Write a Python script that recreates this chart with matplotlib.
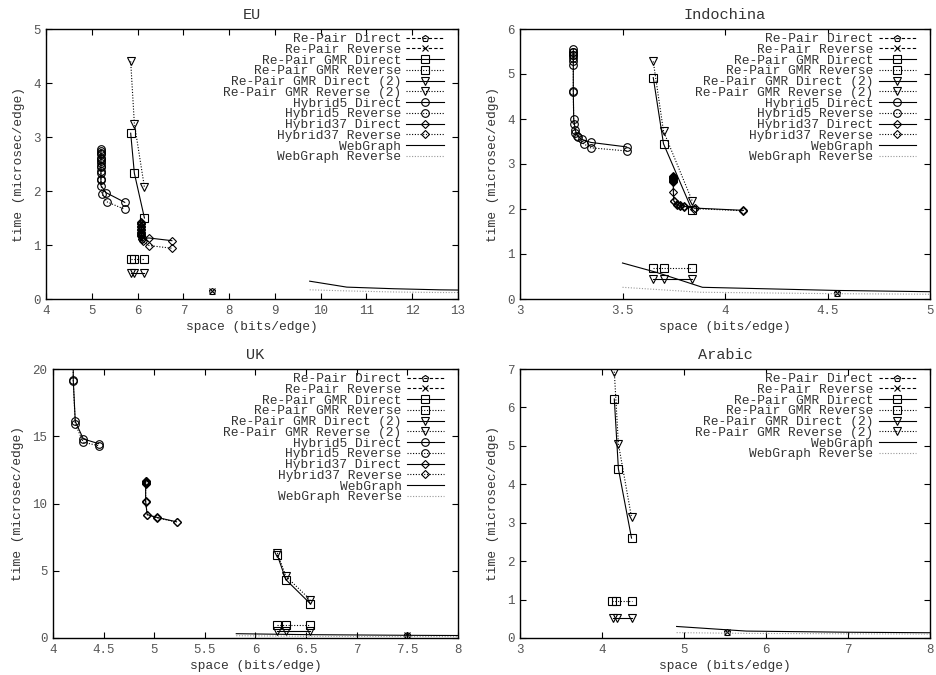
import matplotlib
matplotlib.use("Agg")
import matplotlib.pyplot as plt

plt.rcParams['font.family'] = ['Liberation Mono', 'DejaVu Sans Mono']

# ---------------- EU ----------------
eu_rp_x = [7.62]; eu_rp_y = [0.14]
eu_gmr_x = [5.85, 5.93, 6.15]
eu_gmr_dir_y = [3.07, 2.33, 1.50]
eu_gmr_rev_y = [0.75, 0.75, 0.75]
eu_gmr2_dir_y = [0.48, 0.48, 0.48]
eu_gmr2_rev_y = [4.40, 3.25, 2.07]
eu_h5_dir_x = [5.2, 5.2, 5.2, 5.2, 5.2, 5.2, 5.2, 5.2, 5.31, 5.72]
eu_h5_dir_y = [2.77, 2.70, 2.62, 2.55, 2.47, 2.37, 2.23, 2.10, 1.97, 1.79]
eu_h5_rev_x = [5.2, 5.2, 5.2, 5.2, 5.2, 5.2, 5.2, 5.22, 5.33, 5.72]
eu_h5_rev_y = [2.75, 2.68, 2.60, 2.52, 2.44, 2.33, 2.20, 1.95, 1.80, 1.66]
eu_h37_dir_x = [6.08, 6.08, 6.08, 6.08, 6.08, 6.08, 6.09, 6.10, 6.25, 6.75]
eu_h37_dir_y = [1.43, 1.38, 1.33, 1.28, 1.23, 1.19, 1.15, 1.12, 1.13, 1.08]
eu_h37_rev_x = [6.08, 6.08, 6.08, 6.08, 6.08, 6.08, 6.09, 6.11, 6.25, 6.75]
eu_h37_rev_y = [1.40, 1.35, 1.30, 1.25, 1.20, 1.16, 1.12, 1.07, 0.99, 0.94]
eu_wg_x = [9.76, 10.57, 11.6, 12.6, 13.6]
eu_wg_y = [0.33, 0.22, 0.19, 0.17, 0.16]
eu_wgr_y = [0.17, 0.15, 0.13, 0.12, 0.12]

# ---------------- Indochina ----------------
in_rp_x = [4.545]; in_rp_y = [0.14]
in_gmr_x = [3.65, 3.70, 3.84]
in_gmr_dir_y = [4.92, 3.45, 1.97]
in_gmr_rev_y = [0.69, 0.69, 0.69]
in_gmr2_dir_y = [0.44, 0.44, 0.44]
in_gmr2_rev_y = [5.28, 3.73, 2.18]
in_h5_dir_x = [3.26, 3.26, 3.26, 3.26, 3.26, 3.262, 3.27, 3.28, 3.30, 3.345, 3.52]
in_h5_dir_y = [5.55, 5.48, 5.42, 5.35, 4.62, 4.00, 3.75, 3.63, 3.55, 3.48, 3.38]
in_h5_rev_x = [3.26, 3.26, 3.26, 3.26, 3.26, 3.262, 3.27, 3.285, 3.31, 3.345, 3.52]
in_h5_rev_y = [5.50, 5.43, 5.28, 5.20, 4.60, 3.90, 3.68, 3.60, 3.45, 3.36, 3.29]
in_h37_dir_x = [3.748, 3.748, 3.748, 3.748, 3.748, 3.748, 3.75, 3.765, 3.78, 3.80, 3.855, 4.09]
in_h37_dir_y = [2.74, 2.71, 2.68, 2.65, 2.62, 2.38, 2.18, 2.11, 2.08, 2.06, 2.02, 1.97]
in_h37_rev_x = [3.748, 3.748, 3.748, 3.748, 3.748, 3.75, 3.765, 3.78, 3.80, 3.85, 4.09]
in_h37_rev_y = [2.72, 2.69, 2.66, 2.63, 2.60, 2.17, 2.10, 2.07, 2.05, 2.01, 1.96]
in_wg_x = [3.50, 3.667, 3.89, 4.545, 5.2]
in_wg_y = [0.80, 0.59, 0.26, 0.19, 0.15]
in_wgr_x = [3.50, 3.88, 4.5, 5.2]
in_wgr_y = [0.26, 0.15, 0.12, 0.10]

# ---------------- UK ----------------
uk_rp_x = [7.497]; uk_rp_y = [0.2]
uk_gmr_x = [6.216, 6.30, 6.54]
uk_gmr_dir_y = [6.15, 4.34, 2.56]
uk_gmr_rev_y = [0.94, 0.94, 0.94]
uk_gmr2_dir_y = [0.52, 0.52, 0.52]
uk_gmr2_rev_y = [6.33, 4.59, 2.85]
uk_h5_x = [4.2, 4.2, 4.22, 4.3, 4.45]
uk_h5_dir_y = [24.0, 19.2, 16.1, 14.8, 14.45]
uk_h5_rev_y = [23.5, 19.1, 15.9, 14.55, 14.3]
uk_h37_x = [4.915, 4.915, 4.915, 4.915, 4.93, 5.03, 5.22]
uk_h37_dir_y = [11.7, 11.6, 11.5, 10.15, 9.18, 8.96, 8.64]
uk_h37_rev_y = [11.65, 11.55, 11.45, 10.1, 9.15, 8.93, 8.62]
uk_wg_x = [5.81, 6.5, 7.5, 8.5]
uk_wg_y = [0.32, 0.25, 0.20, 0.17]
uk_wgr_y = [0.17, 0.13, 0.11, 0.10]

# ---------------- Arabic ----------------
ar_rp_x = [5.53]; ar_rp_y = [0.157]
ar_gmr_x = [4.15, 4.20, 4.36]
ar_gmr_dir_y = [6.22, 4.40, 2.60]
ar_gmr_rev_x = [4.12, 4.17, 4.36]
ar_gmr_rev_y = [0.97, 0.97, 0.97]
ar_gmr2_dir_x = [4.14, 4.18, 4.36]
ar_gmr2_dir_y = [0.53, 0.53, 0.53]
ar_gmr2_rev_y = [6.93, 5.05, 3.14]
ar_wg_x = [4.91, 5.76, 7.0, 8.5]
ar_wg_y = [0.30, 0.18, 0.15, 0.13]
ar_wgr_y = [0.14, 0.12, 0.11, 0.10]

labels = ['Re-Pair Direct', 'Re-Pair Reverse', 'Re-Pair GMR Direct',
          'Re-Pair GMR Reverse', 'Re-Pair GMR Direct (2)',
          'Re-Pair GMR Reverse (2)', 'Hybrid5 Direct', 'Hybrid5 Reverse',
          'Hybrid37 Direct', 'Hybrid37 Reverse', 'WebGraph', 'WebGraph Reverse']

DASH = (0, (3, 2))
DOT = (0, (1, 1.5))
styles = {
    'Re-Pair Direct': dict(ls=DASH, marker='p', ms=5),
    'Re-Pair Reverse': dict(ls=DASH, marker='x', ms=5),
    'Re-Pair GMR Direct': dict(ls='-', marker='s', ms=5.5),
    'Re-Pair GMR Reverse': dict(ls=DOT, marker='s', ms=5.5),
    'Re-Pair GMR Direct (2)': dict(ls='-', marker='v', ms=5.5),
    'Re-Pair GMR Reverse (2)': dict(ls=DOT, marker='v', ms=5.5),
    'Hybrid5 Direct': dict(ls='-', marker='o', ms=5.5),
    'Hybrid5 Reverse': dict(ls=DOT, marker='o', ms=5.5),
    'Hybrid37 Direct': dict(ls='-', marker='D', ms=3.8),
    'Hybrid37 Reverse': dict(ls=DOT, marker='D', ms=3.8),
    'WebGraph': dict(ls='-', marker=None, ms=0),
    'WebGraph Reverse': dict(ls=DOT, marker=None, ms=0, color='#999999'),
}

panels = [
    dict(title='EU', pos=[46/937, 1-299/675, 412/937, 270/675],
         xlim=(4, 13), ylim=(0, 5), xticks=[4, 5, 6, 7, 8, 9, 10, 11, 12, 13],
         xtl=['4', '5', '6', '7', '8', '9', '10', '11', '12', '13'],
         yticks=[0, 1, 2, 3, 4, 5],
         series={
             'Re-Pair Direct': (eu_rp_x, eu_rp_y),
             'Re-Pair Reverse': (eu_rp_x, eu_rp_y),
             'Re-Pair GMR Direct': (eu_gmr_x, eu_gmr_dir_y),
             'Re-Pair GMR Reverse': (eu_gmr_x, eu_gmr_rev_y),
             'Re-Pair GMR Direct (2)': (eu_gmr_x, eu_gmr2_dir_y),
             'Re-Pair GMR Reverse (2)': (eu_gmr_x, eu_gmr2_rev_y),
             'Hybrid5 Direct': (eu_h5_dir_x, eu_h5_dir_y),
             'Hybrid5 Reverse': (eu_h5_rev_x, eu_h5_rev_y),
             'Hybrid37 Direct': (eu_h37_dir_x, eu_h37_dir_y),
             'Hybrid37 Reverse': (eu_h37_rev_x, eu_h37_rev_y),
             'WebGraph': (eu_wg_x, eu_wg_y),
             'WebGraph Reverse': (eu_wg_x, eu_wgr_y)}),
    dict(title='Indochina', pos=[520/937, 1-299/675, 410/937, 270/675],
         xlim=(3, 5), ylim=(0, 6), xticks=[3, 3.5, 4, 4.5, 5],
         xtl=['3', '3.5', '4', '4.5', '5'], yticks=[0, 1, 2, 3, 4, 5, 6],
         series={
             'Re-Pair Direct': (in_rp_x, in_rp_y),
             'Re-Pair Reverse': (in_rp_x, in_rp_y),
             'Re-Pair GMR Direct': (in_gmr_x, in_gmr_dir_y),
             'Re-Pair GMR Reverse': (in_gmr_x, in_gmr_rev_y),
             'Re-Pair GMR Direct (2)': (in_gmr_x, in_gmr2_dir_y),
             'Re-Pair GMR Reverse (2)': (in_gmr_x, in_gmr2_rev_y),
             'Hybrid5 Direct': (in_h5_dir_x, in_h5_dir_y),
             'Hybrid5 Reverse': (in_h5_rev_x, in_h5_rev_y),
             'Hybrid37 Direct': (in_h37_dir_x, in_h37_dir_y),
             'Hybrid37 Reverse': (in_h37_rev_x, in_h37_rev_y),
             'WebGraph': (in_wg_x, in_wg_y),
             'WebGraph Reverse': (in_wgr_x, in_wgr_y)}),
    dict(title='UK', pos=[53/937, 1-638/675, 405/937, 269/675],
         xlim=(4, 8), ylim=(0, 20), xticks=[4, 4.5, 5, 5.5, 6, 6.5, 7, 7.5, 8],
         xtl=['4', '4.5', '5', '5.5', '6', '6.5', '7', '7.5', '8'],
         yticks=[0, 5, 10, 15, 20],
         series={
             'Re-Pair Direct': (uk_rp_x, uk_rp_y),
             'Re-Pair Reverse': (uk_rp_x, uk_rp_y),
             'Re-Pair GMR Direct': (uk_gmr_x, uk_gmr_dir_y),
             'Re-Pair GMR Reverse': (uk_gmr_x, uk_gmr_rev_y),
             'Re-Pair GMR Direct (2)': (uk_gmr_x, uk_gmr2_dir_y),
             'Re-Pair GMR Reverse (2)': (uk_gmr_x, uk_gmr2_rev_y),
             'Hybrid5 Direct': (uk_h5_x, uk_h5_dir_y),
             'Hybrid5 Reverse': (uk_h5_x, uk_h5_rev_y),
             'Hybrid37 Direct': (uk_h37_x, uk_h37_dir_y),
             'Hybrid37 Reverse': (uk_h37_x, uk_h37_rev_y),
             'WebGraph': (uk_wg_x, uk_wg_y),
             'WebGraph Reverse': (uk_wg_x, uk_wgr_y)}),
    dict(title='Arabic', pos=[520/937, 1-638/675, 410/937, 269/675],
         xlim=(3, 8), ylim=(0, 7), xticks=[3, 4, 5, 6, 7, 8],
         xtl=['3', '4', '5', '6', '7', '8'], yticks=[0, 1, 2, 3, 4, 5, 6, 7],
         series={
             'Re-Pair Direct': (ar_rp_x, ar_rp_y),
             'Re-Pair Reverse': (ar_rp_x, ar_rp_y),
             'Re-Pair GMR Direct': (ar_gmr_x, ar_gmr_dir_y),
             'Re-Pair GMR Reverse': (ar_gmr_rev_x, ar_gmr_rev_y),
             'Re-Pair GMR Direct (2)': (ar_gmr2_dir_x, ar_gmr2_dir_y),
             'Re-Pair GMR Reverse (2)': (ar_gmr_x, ar_gmr2_rev_y),
             'WebGraph': (ar_wg_x, ar_wg_y),
             'WebGraph Reverse': (ar_wg_x, ar_wgr_y)}),
]

fig = plt.figure(figsize=(9.37, 6.75), dpi=100)
TXT = '#333333'
for p in panels:
    ax = fig.add_axes(p['pos'])
    handles = []
    for lab in labels:
        if lab not in p['series']:
            continue
        xs, ys = p['series'][lab]
        st = styles[lab]
        col = st.get('color', 'black')
        h, = ax.plot(xs, ys, linestyle=st['ls'], marker=st['marker'],
                     markersize=st['ms'], markerfacecolor='none',
                     markeredgecolor=col, markeredgewidth=0.8,
                     color=col, linewidth=0.8, label=lab)
        handles.append(h)
    ax.set_xlim(*p['xlim'])
    ax.set_ylim(*p['ylim'])
    ax.set_xticks(p['xticks'])
    ax.set_xticklabels(p['xtl'])
    ax.set_yticks(p['yticks'])
    ax.tick_params(direction='in', top=True, right=True, length=4.5,
                   width=0.8, labelsize=9, labelcolor='#555555', pad=4)
    for s in ax.spines.values():
        s.set_linewidth(1.0)
    ax.set_title(p['title'], fontsize=11, color=TXT, pad=7)
    ax.set_xlabel('space (bits/edge)', fontsize=9.3, color=TXT, labelpad=3)
    ax.set_ylabel('time (microsec/edge)', fontsize=9.3, color=TXT, labelpad=6)
    leg = ax.legend(handles=handles, loc='upper right',
                    bbox_to_anchor=(1 - 14/410, 1 - 4/270),
                    frameon=False, markerfirst=False, numpoints=1,
                    prop={'family': 'Liberation Mono', 'size': 9.3},
                    labelcolor=TXT, labelspacing=-0.1, handlelength=2.9,
                    handletextpad=0.4, borderpad=0, borderaxespad=0)

fig.savefig('out.png', dpi=100)
